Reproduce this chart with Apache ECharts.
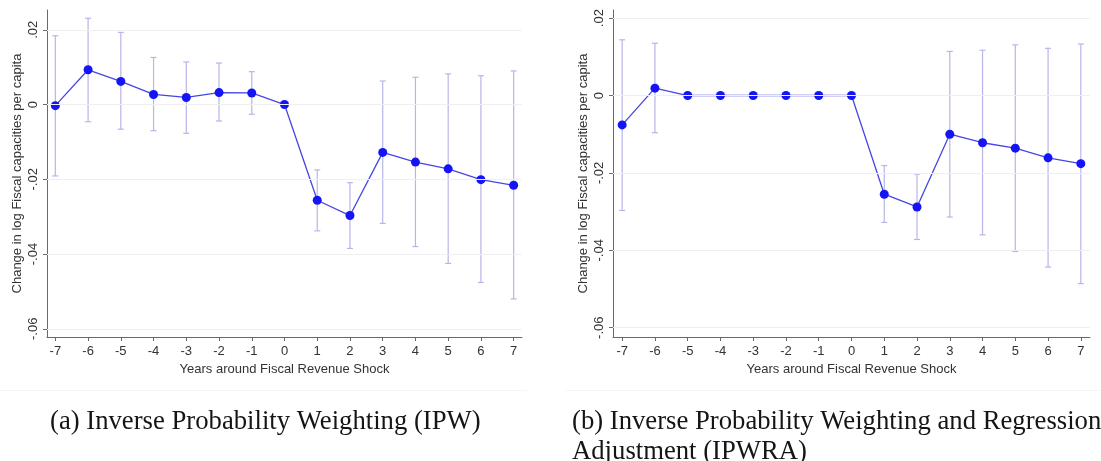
<!DOCTYPE html>
<html>
<head>
<meta charset="utf-8">
<script src="https://cdn.jsdelivr.net/npm/echarts@6/dist/echarts.min.js"></script>
<style>
  html, body { margin: 0; padding: 0; background: #ffffff; }
  #chart { width: 1101px; height: 461px; }
</style>
</head>
<body>
<div id="chart"></div>
<script>
// Event-study estimates: years relative to the fiscal revenue shock
const years = [-7, -6, -5, -4, -3, -2, -1, 0, 1, 2, 3, 4, 5, 6, 7];

// (a) Inverse Probability Weighting
const ipwEst = [-0.0003, 0.0093, 0.0062, 0.0027, 0.0019, 0.0032, 0.0031, 0, -0.0256, -0.0297, -0.0128, -0.0154, -0.0172, -0.0201, -0.0216];
const ipwLo  = [-0.0191, -0.0046, -0.0066, -0.0070, -0.0077, -0.0044, -0.0026, 0, -0.0338, -0.0385, -0.0318, -0.0380, -0.0425, -0.0476, -0.0520];
const ipwHi  = [0.0184, 0.0231, 0.0193, 0.0126, 0.0114, 0.0111, 0.0088, 0, -0.0175, -0.0209, 0.0063, 0.0073, 0.0082, 0.0077, 0.0090];

// (b) Inverse Probability Weighting and Regression Adjustment
const ipwraEst = [-0.0076, 0.0019, 0, 0, 0, 0, 0, 0, -0.0255, -0.0288, -0.0100, -0.0122, -0.0136, -0.0161, -0.0176];
const ipwraLo  = [-0.0297, -0.0096, 0, 0, 0, 0, 0, 0, -0.0328, -0.0372, -0.0314, -0.0360, -0.0403, -0.0443, -0.0486];
const ipwraHi  = [0.0144, 0.0135, 0, 0, 0, 0, 0, 0, -0.0181, -0.0203, 0.0114, 0.0117, 0.0131, 0.0122, 0.0133];

const yTicks = [-0.06, -0.04, -0.02, 0, 0.02];

const yTitle = 'Change in log Fiscal capacities per capita';
const xTitle = 'Years around Fiscal Revenue Shock';
const captionA = '(a) Inverse Probability Weighting (IPW)';
const captionB1 = '(b) Inverse Probability Weighting and Regression';
const captionB2 = 'Adjustment (IPWRA)';

const SANS = '"Liberation Sans", Arial, sans-serif';
const SERIF = '"Liberation Serif", "Times New Roman", serif';
const TEXT = '#333333';
const AXIS = '#6a6a6a';
const GRID = '#efefef';
const CI = '#b6b6ea';
const LINE = '#4646e4';
const DOT = '#1414f4';

// Stata-style number labels: .02, 0, -.02
function stataFmt(v) {
  if (Math.abs(v) < 1e-12) return '0';
  const s = Math.abs(v).toFixed(2).replace(/^0/, '');
  return (v < 0 ? '-' : '') + s;
}

function makeX(gridIndex, pad) {
  return {
    type: 'value', gridIndex: gridIndex,
    min: -7 - pad, max: 7 + pad,
    name: xTitle, nameLocation: 'middle', nameGap: 24,
    nameTextStyle: { fontFamily: SANS, fontSize: 13, color: TEXT },
    axisLine: { show: true, onZero: false, lineStyle: { color: AXIS, width: 1 } },
    axisTick: { show: true, length: 4, customValues: years, lineStyle: { color: AXIS } },
    axisLabel: { customValues: years, margin: 8, fontFamily: SANS, fontSize: 13, color: TEXT,
                 formatter: v => String(v) },
    splitLine: { show: false }
  };
}

function makeY(gridIndex, lo, hi) {
  return {
    type: 'value', gridIndex: gridIndex,
    min: lo, max: hi,
    name: yTitle, nameLocation: 'middle', nameGap: 23,
    nameTextStyle: { fontFamily: SANS, fontSize: 13, color: TEXT },
    axisLine: { show: true, onZero: false, lineStyle: { color: AXIS, width: 1 } },
    axisTick: { show: true, length: 4, customValues: yTicks, lineStyle: { color: AXIS } },
    axisLabel: { customValues: yTicks, rotate: 90, margin: 7, fontFamily: SANS, fontSize: 13,
                 color: TEXT, formatter: stataFmt },
    splitLine: { show: false }
  };
}

// Vertical confidence-interval bars with end caps
function ciRender(params, api) {
  const x = api.value(0), lo = api.value(1), hi = api.value(2);
  if (lo === hi) return { type: 'group', children: [] };
  const top = api.coord([x, hi]);
  const bot = api.coord([x, lo]);
  const cw = 3;
  const st = { stroke: CI, lineWidth: 1.2 };
  return {
    type: 'group',
    children: [
      { type: 'line', shape: { x1: top[0], y1: top[1], x2: bot[0], y2: bot[1] }, style: st },
      { type: 'line', shape: { x1: top[0] - cw, y1: top[1], x2: top[0] + cw, y2: top[1] }, style: st },
      { type: 'line', shape: { x1: bot[0] - cw, y1: bot[1], x2: bot[0] + cw, y2: bot[1] }, style: st }
    ]
  };
}

function panelSeries(idx, est, lo, hi) {
  return [
    {
      // horizontal grid lines at the labelled y values
      type: 'line', xAxisIndex: idx, yAxisIndex: idx, z: 1,
      data: years.map(y => [y, null]), showSymbol: false, silent: true,
      lineStyle: { opacity: 0 },
      markLine: {
        silent: true, symbol: ['none', 'none'], animation: false,
        label: { show: false },
        lineStyle: { color: GRID, type: 'solid', width: 1 },
        emphasis: { disabled: true },
        data: yTicks.map(v => ({ yAxis: v }))
      }
    },
    {
      type: 'custom', xAxisIndex: idx, yAxisIndex: idx, z: 2,
      renderItem: ciRender, silent: true,
      encode: { x: 0, y: [1, 2] },
      data: years.map((y, i) => [y, lo[i], hi[i]])
    },
    {
      type: 'line', xAxisIndex: idx, yAxisIndex: idx, z: 3,
      data: years.map((y, i) => [y, est[i]]),
      symbol: 'circle', symbolSize: 9, showSymbol: true,
      itemStyle: { color: DOT },
      lineStyle: { color: LINE, width: 1.3 },
      silent: true
    }
  ];
}

const chart = echarts.init(document.getElementById('chart'), null, { renderer: 'canvas' });

const CAP_FONT = '26.7px ' + SERIF;

chart.setOption({
  animation: false,
  backgroundColor: '#ffffff',
  grid: [
    { left: 47, top: 10, width: 475, height: 327 },
    { left: 613, top: 10, width: 477, height: 327 }
  ],
  xAxis: [makeX(0, 0.255), makeX(1, 0.28)],
  yAxis: [makeY(0, -0.0622, 0.0253), makeY(1, -0.0624, 0.0221)],
  series: [].concat(
    panelSeries(0, ipwEst, ipwLo, ipwHi),
    panelSeries(1, ipwraEst, ipwraLo, ipwraHi)
  ),
  graphic: [
    { type: 'line', silent: true, shape: { x1: 0, y1: 390.5, x2: 527, y2: 390.5 }, style: { stroke: '#f5f5f5', lineWidth: 1 } },
    { type: 'line', silent: true, shape: { x1: 565, y1: 390.5, x2: 1101, y2: 390.5 }, style: { stroke: '#f5f5f5', lineWidth: 1 } },
    { type: 'text', left: 50, top: 408, silent: true,
      style: { text: captionA, font: CAP_FONT, fill: '#151515' } },
    { type: 'text', left: 572, top: 408, silent: true,
      style: { text: captionB1, font: CAP_FONT, fill: '#151515' } },
    { type: 'text', left: 572, top: 438, silent: true,
      style: { text: captionB2, font: CAP_FONT, fill: '#151515' } }
  ]
});
</script>
</body>
</html>
